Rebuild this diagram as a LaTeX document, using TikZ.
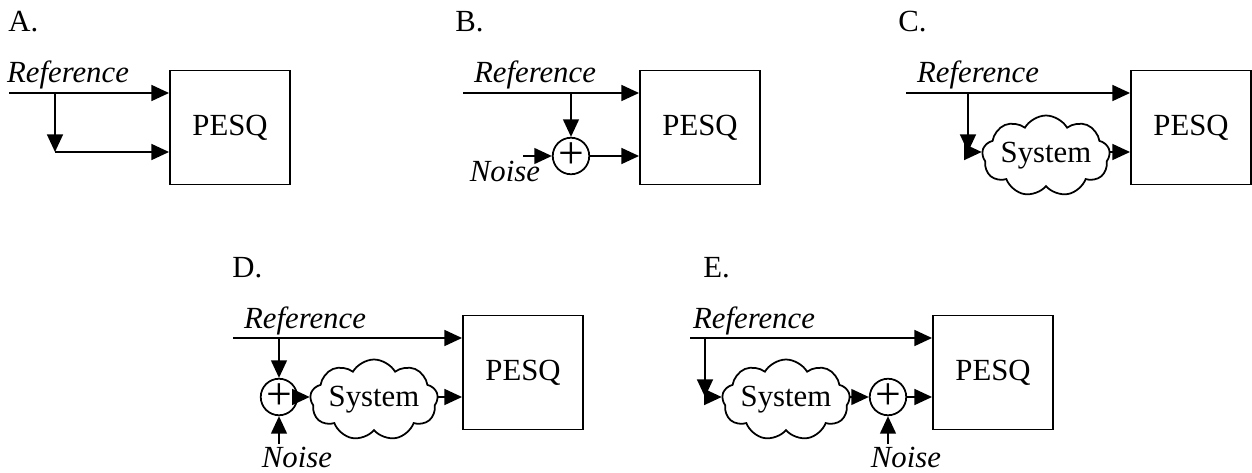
\documentclass[tikz,border=0pt]{standalone}
\usepackage{fontspec}
\setmainfont{Liberation Serif}
\usetikzlibrary{arrows.meta,shapes.symbols}

\begin{document}
\begin{tikzpicture}[x=0.02cm,y=-0.02cm,
	font=\fontsize{17.5}{20}\selectfont,
	sig/.style={line width=1.1pt,-{Triangle[length=10pt,width=9pt]}},
	pesq/.style={draw,line width=1.1pt,minimum width=2.4cm,minimum height=2.28cm,inner sep=0},
	sum/.style={draw,circle,line width=1pt,minimum size=0.66cm,inner sep=0,font=\fontsize{26}{26}\selectfont},
	sys/.style={draw,cloud,cloud puffs=9,cloud puff arc=120,cloud ignores aspect,line width=1pt,minimum width=2.25cm,minimum height=1.62cm,inner sep=0},
	lbl/.style={anchor=base west,inner sep=0},
	txt/.style={anchor=base,inner sep=0,font=\fontsize{17.5}{20}\selectfont\itshape}]
	\useasboundingbox (0,0) rectangle (1252,473);

	% A.
	\node[lbl] (la) at (8,32) {A.};
	\node[pesq] (pa) at (230,127.5) {PESQ};
	\node[txt] (ra) at (68,83) {Reference};
	\coordinate (a0) at (9,93);
	\coordinate (a1) at (55,93);
	\coordinate (a2) at (55,152);
	\draw[sig] (a0) -- (a0 -| pa.west);
	\draw[sig] (a1) -- (a2);
	\draw[sig] (a2) -- (a2 -| pa.west);

	% B.
	\node[lbl] (lb) at (455,32) {B.};
	\node[pesq] (pb) at (700,127.5) {PESQ};
	\node[txt] (rb) at (535,83) {Reference};
	\node[sum] (sb) at (571,156) {+};
	\node[txt] (nb) at (505,182) {Noise};
	\coordinate (b0) at (463,93);
	\coordinate (b1) at (571,93);
	\coordinate (bn) at (523,156);
	\draw[sig] (b0) -- (b0 -| pb.west);
	\draw[sig] (b1) -- (sb);
	\draw[sig] (bn) -- (sb);
	\draw[sig] (sb) -- (sb -| pb.west);

	% C.
	\node[lbl] (lc) at (898,32) {C.};
	\node[pesq] (pc) at (1191,127.5) {PESQ};
	\node[txt] (rc) at (978,83) {Reference};
	\node[sys] (yc) at (1046,156) {System};
	\coordinate (c0) at (906,93);
	\coordinate (c1) at (968,93);
	\coordinate (c2) at (968,152);
	\draw[sig] (c0) -- (c0 -| pc.west);
	\draw[sig] (c1) -- (c2);
	\draw[sig] (c2) -- (c2 -| yc.west);
	\draw[sig] (yc.east |- c2) -- (c2 -| pc.west);

	% D.
	\node[lbl] (ld) at (232,277) {D.};
	\node[pesq] (pd) at (523,372.5) {PESQ};
	\node[txt] (rd) at (305,328) {Reference};
	\node[sum] (sd) at (279,397) {+};
	\node[sys] (yd) at (374,400) {System};
	\node[txt] (nd) at (297,467) {Noise};
	\coordinate (d0) at (233,338);
	\coordinate (d1) at (279,338);
	\coordinate (dn) at (279,444);
	\draw[sig] (d0) -- (d0 -| pd.west);
	\draw[sig] (d1) -- (sd);
	\draw[sig] (dn) -- (sd);
	\draw[sig] (sd) -- (sd -| yd.west);
	\draw[sig] (yd.east |- sd) -- (sd -| pd.west);

	% E.
	\node[lbl] (le) at (703,277) {E.};
	\node[pesq] (pe) at (993,372.5) {PESQ};
	\node[txt] (re) at (754,328) {Reference};
	\node[sys] (ye) at (786,400) {System};
	\node[sum] (se) at (888,397) {+};
	\node[txt] (ne) at (906,467) {Noise};
	\coordinate (e0) at (690,338);
	\coordinate (e1) at (705,338);
	\coordinate (e2) at (705,397);
	\coordinate (en) at (888,444);
	\draw[sig] (e0) -- (e0 -| pe.west);
	\draw[sig] (e1) -- (e2);
	\draw[sig] (e2) -- (e2 -| ye.west);
	\draw[sig] (ye.east |- se) -- (se);
	\draw[sig] (en) -- (se);
	\draw[sig] (se) -- (se -| pe.west);
\end{tikzpicture}
\end{document}
